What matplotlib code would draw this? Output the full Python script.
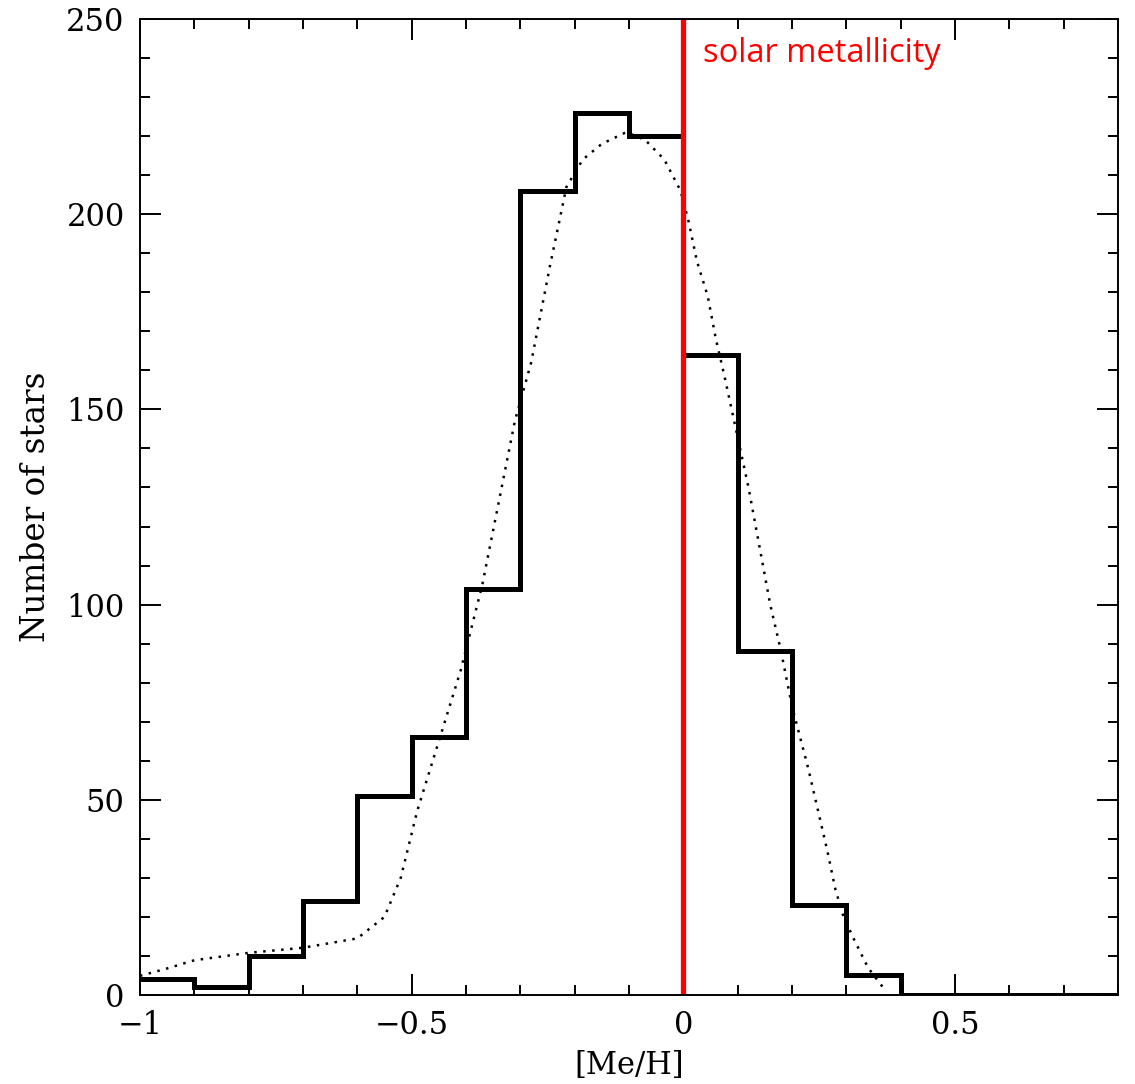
import numpy as np
import matplotlib
matplotlib.use("Agg")
import matplotlib.pyplot as plt
from matplotlib.ticker import MultipleLocator

# histogram of [Me/H], bins of 0.1 dex
bin_edges = [-1.0, -0.9, -0.8, -0.7, -0.6, -0.5, -0.4, -0.3, -0.2, -0.1,
             0.0, 0.1, 0.2, 0.3, 0.4, 0.5, 0.6, 0.7, 0.8]
counts = [4, 2, 10, 24, 51, 66, 104, 206, 226, 220,
          164, 88, 23, 5, 0, 0, 0, 0]

# dotted model curve
model_x = [-1.0, -0.95, -0.9, -0.8, -0.7, -0.6, -0.55, -0.52, -0.49, -0.45,
           -0.41, -0.37, -0.34, -0.31, -0.28, -0.245, -0.215, -0.185, -0.15,
           -0.105, -0.07, -0.035, -0.005, 0.01, 0.025, 0.045, 0.06, 0.075,
           0.12, 0.16, 0.18, 0.2, 0.23, 0.25, 0.265, 0.28, 0.295, 0.315,
           0.34, 0.37]
model_y = [4.9, 6.8, 8.9, 10.8, 12.1, 14.5, 20, 30, 47, 65,
           83, 105, 126, 147, 162, 187, 207, 214, 218,
           221, 219, 214, 206, 198, 188, 179, 168, 159,
           130, 100, 88, 74, 58, 46, 37, 27, 20, 14,
           7, 1.5]

solar_feh = 0.0

plt.rcParams['font.family'] = 'DejaVu Serif'

fig = plt.figure(figsize=(11.35, 10.84), dpi=100)
ax = fig.add_axes([0.1233, 0.0821, 0.8617, 0.9004])

ax.plot(model_x, model_y, color='black', lw=1.8, linestyle=(0, (1, 2.6)))
ax.stairs(counts, bin_edges, baseline=None, color='black', lw=3.6)
ax.axvline(solar_feh, color='#ff0000', lw=3.8)
ax.text(0.036, 239, 'solar metallicity', color='#ff0000', fontsize=23.5,
        family='Open Sans', ha='left', va='baseline')

ax.set_xlim(-1, 0.8)
ax.set_ylim(0, 250)
ax.xaxis.set_minor_locator(MultipleLocator(0.1))
ax.yaxis.set_major_locator(MultipleLocator(50))
ax.yaxis.set_minor_locator(MultipleLocator(10))
ax.set_xticks([-1, -0.5, 0, 0.5])
ax.set_xticklabels(['\u22121', '\u22120.5', '0', '0.5'])

ax.tick_params(which='both', direction='in', top=True, right=True, width=1.4,
               labelsize=22, pad=11)
ax.tick_params(which='major', length=15)
ax.tick_params(which='minor', length=7.5)
for s in ax.spines.values():
    s.set_linewidth(1.4)

ax.set_xlabel('[Me/H]', fontsize=22, labelpad=6)
ax.set_ylabel('Number of stars', fontsize=23.5, labelpad=10)

fig.savefig('out.png', dpi=100)
